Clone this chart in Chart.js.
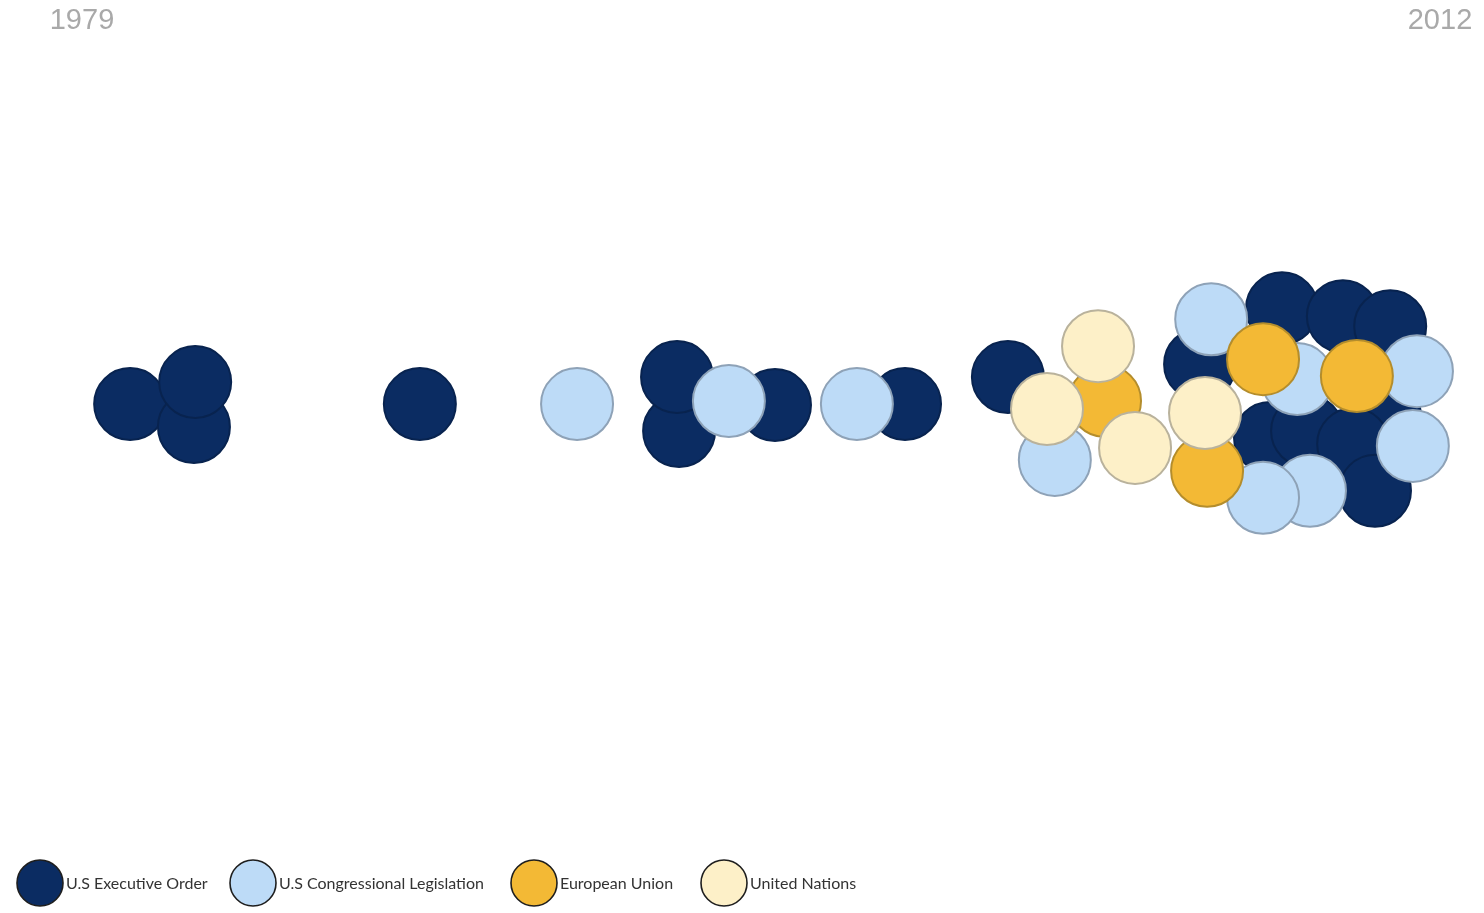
<!DOCTYPE html>
<html>
<head>
<meta charset="utf-8">
<script src="https://cdn.jsdelivr.net/npm/chart.js@4.4.1/dist/chart.umd.min.js"></script>
<style>
  html, body { margin: 0; padding: 0; background: #ffffff; }
  #c { display: block; }
</style>
</head>
<body>
<canvas id="c" width="1484" height="913"></canvas>
<script>
// ---- data (x = year position, y = offset from the centre line) ----
const seriesNames = ['U.S Executive Order', 'U.S Congressional Legislation', 'European Union', 'United Nations'];
const tickYears = [1979, 2012];
const tickLabels = ['1979', '2012'];

const execYears   = [1980.17, 1981.72, 1981.75, 1987.21, 1993.51, 1993.46, 1995.84, 1999.00, 2001.50, 2006.17, 2008.16, 2009.64, 2010.79, 2010.66, 2007.87, 2008.77, 2009.89, 2010.42];
const execOffsets = [0, -23, 22, 0, -27, 27, -1, 0, 27, 40, 96, 88, 78, -12, -34, -27, -40, -87];

const congYears   = [1991.03, 1994.72, 1997.83, 2002.64, 2006.44, 2008.53, 2011.44, 2011.34, 2008.84, 2007.70];
const congOffsets = [0, 3, 0, -56, 85, 25, 33, -42, -87, -94];

const euYears   = [2003.86, 2007.70, 2009.98, 2006.34];
const euOffsets = [3, 45, 28, -67];

const unYears   = [2003.69, 2002.45, 2004.59, 2006.29];
const unOffsets = [58, -5, -44, -9];

// ---- styles ----
const fills   = ['#0b2c62', '#bddbf7', '#f3b935', '#fdf0c8'];
const borders = ['#08234f', '#8ea2b7', '#b48d2c', '#b9b29c'];

function pts(xs, ys) { return xs.map((x, i) => ({ x: x, y: ys[i] })); }

const seriesData = [pts(execYears, execOffsets), pts(congYears, congOffsets), pts(euYears, euOffsets), pts(unYears, unOffsets)];
const drawOrder = [4, 3, 2, 1];

const legendPlugin = {
  id: 'bubbleLegend',
  afterDraw(chart, args, opts) {
    const ctx = chart.ctx;
    ctx.save();
    chart.data.datasets.forEach((ds, i) => {
      const cx = opts.centers[i], cy = opts.y;
      ctx.beginPath();
      ctx.arc(cx, cy, opts.r, 0, Math.PI * 2);
      ctx.fillStyle = ds.backgroundColor;
      ctx.fill();
      ctx.lineWidth = 1.6;
      ctx.strokeStyle = '#1e1e1e';
      ctx.stroke();
      ctx.fillStyle = '#333333';
      ctx.font = '16px Lato, "Open Sans", sans-serif';
      ctx.textBaseline = 'middle';
      ctx.textAlign = 'left';
      ctx.fillText(ds.label, cx + opts.r + 3, cy + 1);
    });
    ctx.restore();
  }
};

new Chart(document.getElementById('c'), {
  type: 'scatter',
  data: {
    datasets: seriesNames.map((name, i) => ({
      label: name,
      data: seriesData[i],
      backgroundColor: fills[i],
      borderColor: borders[i],
      borderWidth: 2,
      pointRadius: 36,
      pointHoverRadius: 36,
      order: drawOrder[i],
      clip: false
    }))
  },
  options: {
    responsive: false,
    animation: false,
    events: [],
    layout: { padding: { left: 82, right: 44, top: 0, bottom: 110 } },
    scales: {
      x: {
        type: 'linear',
        position: 'top',
        min: tickYears[0],
        max: tickYears[tickYears.length - 1],
        afterBuildTicks: (scale) => { scale.ticks = tickYears.map(v => ({ value: v })); },
        ticks: {
          padding: 0,
          maxRotation: 0,
          autoSkip: false,
          color: '#a9a9a9',
          font: { family: '"Liberation Sans", Arial, sans-serif', size: 29 },
          callback: (v) => tickLabels[tickYears.indexOf(v)]
        },
        grid: { display: false, drawTicks: false },
        border: { display: false }
      },
      y: {
        display: false,
        min: -400,
        max: 367
      }
    },
    plugins: {
      legend: { display: false },
      tooltip: { enabled: false },
      bubbleLegend: { centers: [40, 253, 534, 724], y: 883, r: 23 }
    }
  },
  plugins: [legendPlugin]
});
</script>
</body>
</html>
